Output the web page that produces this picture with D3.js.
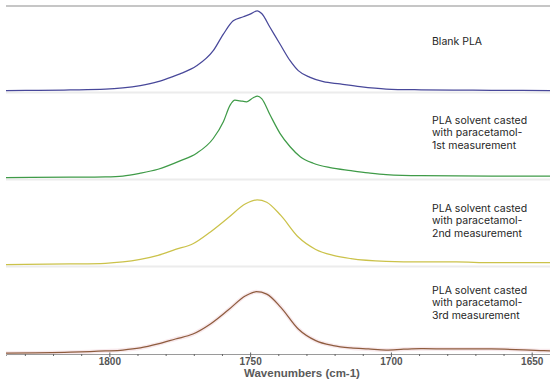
<!DOCTYPE html>
<html><head><meta charset="utf-8">
<script src="https://cdn.jsdelivr.net/npm/d3@7"></script>
<style>body{margin:0;background:#fff}svg{display:block}</style>
</head><body>
<svg id="c" width="550" height="380"></svg>
<script>
// ---------- DATA ----------
const seriesNames = ["Blank PLA",
  "PLA solvent casted\nwith paracetamol-\n1st measurement",
  "PLA solvent casted\nwith paracetamol-\n2nd measurement",
  "PLA solvent casted\nwith paracetamol-\n3rd measurement"];

// [wavenumber (cm-1), relative absorbance]
const blankPLA = [[1836.7,0],[1825,0.003],[1813.9,0.008],[1801.4,0.017],[1795.2,0.033],[1789.0,0.063],[1782.7,0.113],[1778,0.17],[1774.9,0.21],[1769.0,0.31],[1763.1,0.5],[1759.5,0.708],[1756.0,0.875],[1752.4,0.925],[1750.0,0.958],[1747.4,1.0],[1745.9,0.966],[1742.9,0.79],[1739.4,0.584],[1735.8,0.375],[1732.9,0.25],[1728.7,0.166],[1724.0,0.112],[1718.1,0.084],[1711.0,0.05],[1701.7,0.02],[1689.3,0.01],[1676.8,0.006],[1664.4,0.004],[1643.5,0.0]];
const meas1 = [[1836.7,0],[1813.9,0.005],[1801.4,0.01],[1795.2,0.02],[1789.0,0.055],[1782.7,0.105],[1774.9,0.209],[1769.0,0.305],[1763.1,0.49],[1759.5,0.70],[1757.1,0.909],[1755.4,0.971],[1753.6,0.962],[1751.2,0.95],[1748.9,1.0],[1747.4,1.021],[1745.9,0.99],[1742.9,0.784],[1739.4,0.555],[1735.8,0.387],[1732.2,0.262],[1727.6,0.18],[1721.6,0.125],[1714.2,0.088],[1708.0,0.06],[1701.7,0.038],[1689.3,0.024],[1664.4,0.02],[1643.5,0.02]];
const meas2 = [[1836.7,0],[1813.9,0.008],[1801.4,0.016],[1795.2,0.033],[1789.0,0.066],[1782.7,0.116],[1776.5,0.19],[1770.3,0.262],[1764.1,0.41],[1757.8,0.587],[1751.6,0.762],[1747.5,0.812],[1744.1,0.782],[1739.1,0.616],[1732.9,0.345],[1726.7,0.19],[1720.5,0.116],[1714.2,0.075],[1701.7,0.041],[1689.3,0.033],[1676.8,0.033],[1664.4,0.025],[1643.5,0.025]];
const meas3 = [[1836.7,-0.02],[1813.9,-0.008],[1801.4,0.008],[1795.2,0.02],[1789.0,0.046],[1782.7,0.096],[1776.5,0.158],[1770.3,0.22],[1764.1,0.346],[1757.8,0.52],[1751.6,0.70],[1747.8,0.75],[1744.1,0.72],[1739.1,0.554],[1732.9,0.283],[1726.7,0.137],[1720.5,0.075],[1714.2,0.046],[1708.0,0.033],[1701.7,0.02],[1695.5,0.03],[1689.3,0.037],[1676.8,0.033],[1664.4,0.033],[1645.7,0.012],[1643.5,0.01]];
const allSeries = [blankPLA, meas1, meas2, meas3];
const seriesColors = ["#48489a","#3f9b48","#cbc24a","#8e5c3e"];
const tickValues = d3.range(1830, 1649, -10);
const majorTicks = [1800, 1750, 1700, 1650];
const axisTitle = "Wavenumbers (cm-1)";

// ---------- LAYOUT ----------
const left = 6, right = 550, top0 = 6, panelH = 87, axisY = 354;
const labelX = 432, labelOffsets = [38.8, 30.8, 32, 26.8], lineH = 12.4;
const svg = d3.select("#c");
const x = d3.scaleLinear().domain([1836.7, 1643.5]).range([left, right]);

svg.append("line").attr("x1", left).attr("x2", right).attr("y1", top0).attr("y2", top0)
  .attr("stroke", "#b3b3b3").attr("stroke-width", 1.5);

allSeries.forEach((data, i) => {
  const top = top0 + i * panelH, bottom = top + panelH;
  const y = d3.scaleLinear().domain([-0.03, 1.06]).range([bottom, top]);
  if (i < 3) {
    svg.append("line").attr("x1", left).attr("x2", right).attr("y1", bottom - 0.5).attr("y2", bottom - 0.5)
      .attr("stroke", "#ececec").attr("stroke-width", 2);
  }
  const line = d3.line().x(d => x(d[0])).y(d => y(d[1])).curve(d3.curveMonotoneX);
  if (i === 3) {
    svg.append("path").datum(data).attr("d", line).attr("fill", "none")
      .attr("stroke", "#f8e9ec").attr("stroke-width", 4);
  }
  svg.append("path").datum(data).attr("d", line).attr("fill", "none")
    .attr("stroke", seriesColors[i]).attr("stroke-width", 1.25);
  const t = svg.append("text").attr("x", labelX).attr("y", top + labelOffsets[i])
    .attr("font-family", "Inter, 'Noto Sans', sans-serif").attr("font-size", "10.5px").attr("fill", "#262626");
  seriesNames[i].split("\n").forEach((s, k) => {
    t.append("tspan").attr("x", labelX).attr("dy", k === 0 ? 0 : lineH).text(s);
  });
});

// axis
const axis = d3.axisBottom(x).tickValues(tickValues)
  .tickFormat(d => majorTicks.includes(d) ? d : "").tickSizeOuter(0).tickSize(2);
const g = svg.append("g").attr("transform", `translate(0,${axisY})`).call(axis);
g.select(".domain").attr("stroke", "#9a9a9a").attr("stroke-width", 1);
g.selectAll(".tick line").attr("stroke", "#666")
  .attr("y1", d => majorTicks.includes(d) ? -1.5 : 0)
  .attr("y2", d => majorTicks.includes(d) ? 3 : 2);
g.selectAll(".tick text").attr("y", 4).attr("fill", "#555")
  .attr("font-family", "'Liberation Sans', Arial, sans-serif").attr("font-weight", "bold").attr("font-size", "10px");

svg.append("text").attr("x", 302).attr("y", 377).attr("text-anchor", "middle")
  .attr("font-family", "'Liberation Sans', Arial, sans-serif").attr("font-weight", "bold")
  .attr("font-size", "11.5px").attr("fill", "#5a5a5a").text(axisTitle);
</script>
</body></html>
